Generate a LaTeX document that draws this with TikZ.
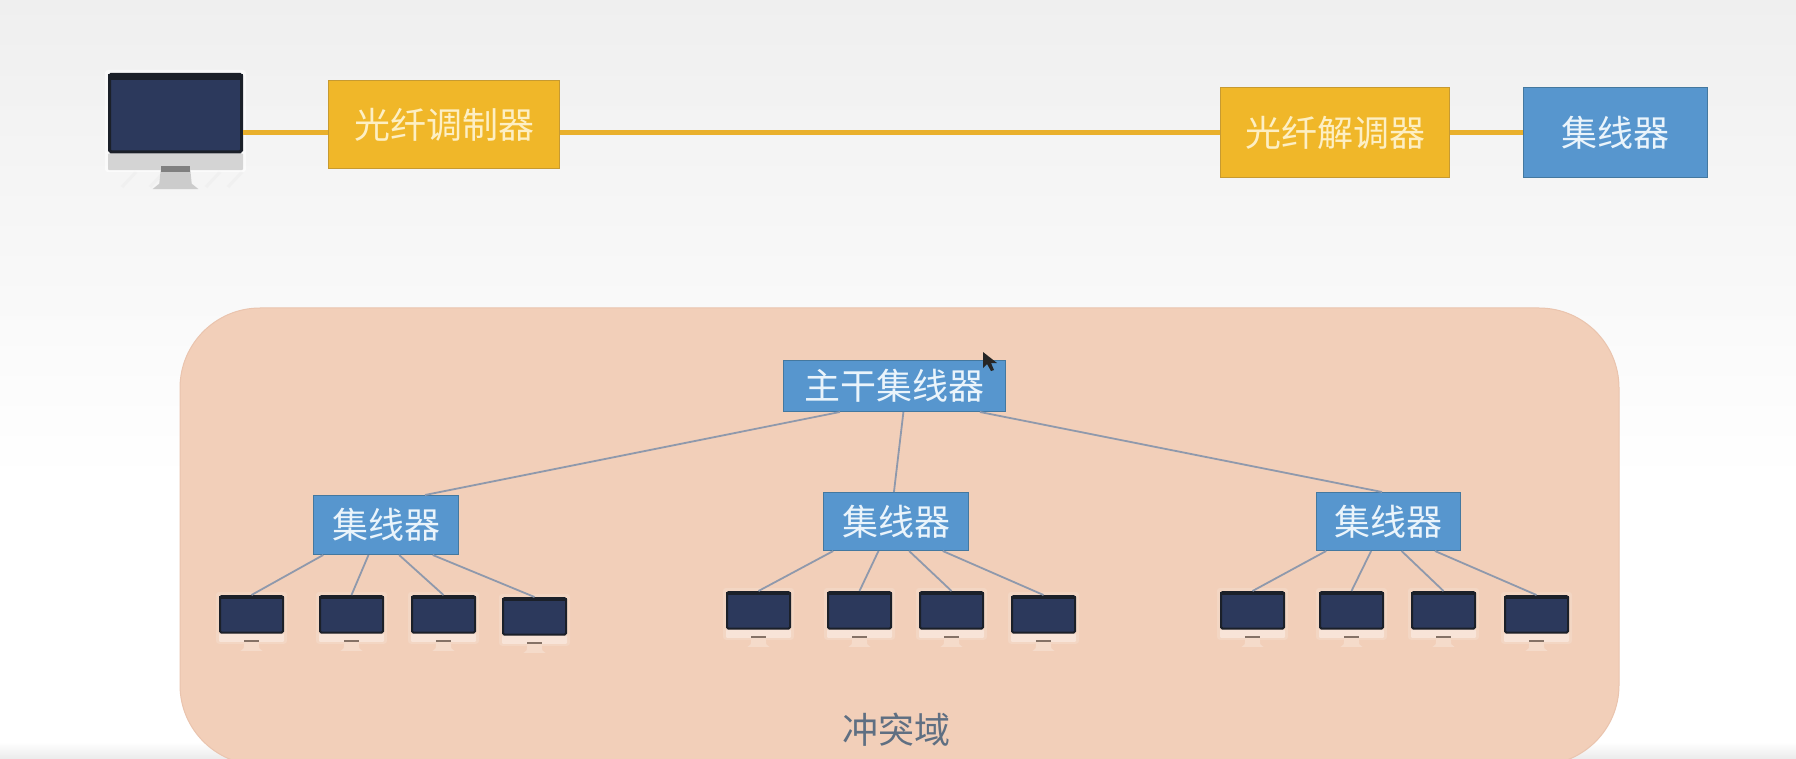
\documentclass[tikz,border=0pt]{standalone}
\usepackage{fontspec}
\setmainfont{Noto Sans CJK SC}
\usetikzlibrary{calc}
\definecolor{orangefill}{HTML}{F0B729}
\definecolor{orangeedge}{HTML}{C79A30}
\definecolor{orangeline}{HTML}{E9B02C}
\definecolor{bluefill}{HTML}{5796CE}
\definecolor{blueedge}{HTML}{44789F}
\definecolor{panelfill}{HTML}{F2CFB9}
\definecolor{paneledge}{HTML}{EAC4AE}
\definecolor{linkgrey}{HTML}{8F99AC}
\definecolor{screenedge}{HTML}{1B2029}
\definecolor{screenfill}{HTML}{2C395C}
\definecolor{labelgrey}{HTML}{5F6F82}
\definecolor{creamtext}{HTML}{FDEFC4}
\definecolor{paletext}{HTML}{EAF4FB}
\definecolor{backtop}{HTML}{EFEFEF}
\tikzset{
  labelfont/.style={font=\fontsize{36}{40}\selectfont},
  amberbox/.style={draw=orangeedge,line width=1.2pt,fill=orangefill,text=creamtext,labelfont,inner sep=0pt},
  bluebox/.style={draw=blueedge,line width=1.2pt,fill=bluefill,text=paletext,labelfont,inner sep=0pt},
  amberlink/.style={draw=orangeline,line width=4.2pt},
  greylink/.style={draw=linkgrey,line width=1.8pt},
  screenbox/.style={draw=screenedge,fill=screenfill,rounded corners=1.5pt,inner sep=0pt},
}
% \boxat{style}{name}{x1}{y1}{x2}{y2}{text}
\newcommand{\boxat}[7]{%
  \pgfmathsetmacro{\cx}{(#3+#5)/2}\pgfmathsetmacro{\cy}{(#4+#6)/2}%
  \pgfmathsetmacro{\bw}{#5-#3-1.2}\pgfmathsetmacro{\bh}{#6-#4-1.2}%
  \node[#1,minimum width=\bw pt,minimum height=\bh pt] (#2) at (\cx,\cy) {\raisebox{1.2pt}{#7}};}
% \monat{name}{x1}{ytop}{x2}{edge width}{chin}{foot}{glow}{bar}
\newcommand{\monat}[9]{%
  \pgfmathsetmacro{\mw}{#4-#2}\pgfmathsetmacro{\mh}{0.595*\mw}%
  \pgfmathsetmacro{\mx}{(#2+#4)/2}%
  \pgfmathsetmacro{\sb}{#3+\mh}\pgfmathsetmacro{\cb}{\sb+0.125*\mw}%
  \pgfmathsetmacro{\fb}{\cb+0.14*\mw}%
  \fill[white,opacity=#8,rounded corners=3pt] (#2-3,#3-3) rectangle (#4+3,\cb+2);
  \fill[#6,rounded corners=1pt] (#2,\sb) rectangle (#4,\cb);
  \fill[#7] (\mx-0.11*\mw,\cb) -- (\mx+0.11*\mw,\cb) -- (\mx+0.12*\mw,\fb-0.04*\mw) -- (\mx+0.17*\mw,\fb) -- (\mx-0.17*\mw,\fb) -- (\mx-0.12*\mw,\fb-0.04*\mw) -- cycle;
  \fill[#9] (\mx-0.11*\mw,\cb-0.03*\mw) rectangle (\mx+0.11*\mw,\cb+0.01*\mw);
  \pgfmathsetmacro{\cyy}{#3+\mh/2}\pgfmathsetmacro{\lw}{\mw-#5}\pgfmathsetmacro{\lh}{\mh-#5}%
  \node[screenbox,line width=#5 pt,minimum width=\lw pt,minimum height=\lh pt] (#1) at (\mx,\cyy) {};
  \fill[screenedge] (#2,#3+1) rectangle (#4,#3+0.055*\mw);}
\begin{document}
\begin{tikzpicture}[x=1pt,y=-1pt]
\useasboundingbox (0,0) rectangle (1796,759);
\clip (0,0) rectangle (1796,759);
% background
\shade[top color=backtop,bottom color=white] (0,0) rectangle (1796,480);
\fill[white] (0,480) rectangle (1796,742);
\shade[top color=white,bottom color=black!8] (0,742) rectangle (1796,759);
% panel
\filldraw[draw=paneledge,line width=1pt,fill=panelfill,rounded corners=80pt] (180,308) rectangle (1619,765);
% top row
\foreach \hx in {122,150,206,228}{
  \draw[black!6,line width=3pt] (\hx,187) -- (\hx+14,172);
}
\monat{mon0}{108}{73}{243}{3}{black!17}{black!20}{0.6}{black!50}
\boxat{amberbox}{box1}{328}{80}{560}{169}{光纤调制器}
\boxat{amberbox}{box2}{1220}{87}{1450}{178}{光纤解调器}
\boxat{bluebox}{hub0}{1523}{87}{1708}{178}{集线器}
\draw[amberlink] (mon0.east |- box2.west) -- (box1.west |- box2.west);
\draw[amberlink] (box1.east |- box2.west) -- (box2.west);
\draw[amberlink] (box2.east) -- (hub0.west);
% tree hubs
\boxat{bluebox}{main}{783}{360}{1006}{412}{主干集线器}
\boxat{bluebox}{hl}{313}{495}{459}{555}{集线器}
\boxat{bluebox}{hm}{823}{492}{969}{551}{集线器}
\boxat{bluebox}{hr}{1316}{492}{1461}{551}{集线器}
\draw[greylink] ($(main.south west)!.255!(main.south east)$) -- ($(hl.north west)!.767!(hl.north east)$);
\draw[greylink] ($(main.south west)!.54!(main.south east)$) -- ($(hm.north west)!.486!(hm.north east)$);
\draw[greylink] ($(main.south west)!.883!(main.south east)$) -- ($(hr.north west)!.455!(hr.north east)$);
% monitors
\foreach \nm/\xa/\ya in {a1/219/595,a2/319/595,a3/411/595,a4/502/597,
                         b1/726/591,b2/827/591,b3/919/591,b4/1011/595,
                         c1/1220/591,c2/1319/591,c3/1411/591,c4/1504/595}{
  \pgfmathsetmacro{\xb}{\xa+65}
  \monat{\nm}{\xa}{\ya}{\xb}{2}{white!45!panelfill}{white!25!panelfill}{0.15}{black!45!panelfill}
}
% links to monitors
\foreach \hub/\pre in {hl/a,hm/b,hr/c}{
  \draw[greylink] ($(\hub.south west)!.07!(\hub.south east)$) -- (\pre1.north);
  \draw[greylink] ($(\hub.south west)!.38!(\hub.south east)$) -- (\pre2.north);
  \draw[greylink] ($(\hub.south west)!.59!(\hub.south east)$) -- (\pre3.north);
  \draw[greylink] ($(\hub.south west)!.82!(\hub.south east)$) -- (\pre4.north);
}
% panel label
\node[labelfont,text=labelgrey,inner sep=0pt] (dom) at (896,730) {冲突域};
% cursor
\fill[black!85] (983,352) -- (983,368) -- (987,364) -- (991,371) -- (994,370) -- (991,363) -- (997,363) -- cycle;
\end{tikzpicture}
\end{document}
